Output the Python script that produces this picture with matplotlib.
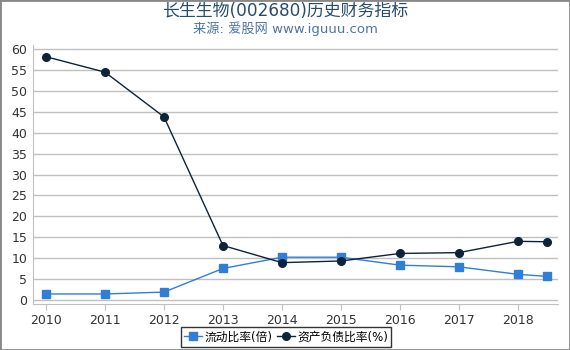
import matplotlib
matplotlib.use('Agg')
import matplotlib.pyplot as plt

plt.rcParams['font.family'] = ['DejaVu Sans', 'Noto Sans CJK SC']

years = [2010, 2011, 2012, 2013, 2014, 2015, 2016, 2017, 2018, 2018.5]
current_ratio = [1.4, 1.4, 1.85, 7.5, 10.2, 10.2, 8.3, 7.9, 6.1, 5.6]
debt_ratio = [58.2, 54.5, 43.8, 13.0, 8.9, 9.3, 11.1, 11.3, 14.0, 13.9]
xticks = [2010, 2011, 2012, 2013, 2014, 2015, 2016, 2017, 2018]
yticks = list(range(0, 61, 5))

fig = plt.figure(figsize=(5.7, 3.5), dpi=100)
ax = fig.add_axes([33 / 570, 1 - 304 / 350, (558 - 33) / 570, (304 - 45) / 350])

ax.plot(years, current_ratio, color='#2f7ed8', marker='s', markersize=5.5,
        linewidth=1, label='流动比率(倍)', zorder=3)
ax.plot(years, debt_ratio, color='#0d233a', marker='o', markersize=5.5,
        linewidth=1, label='资产负债比率(%)', zorder=3)

ax.set_xlim(2009.78, 2018.68)
ax.set_ylim(-1, 61)
ax.set_xticks(xticks)
ax.set_yticks(yticks)
ax.tick_params(axis='both', labelsize=9, colors='#333333')
ax.tick_params(axis='y', length=0, pad=4)
ax.tick_params(axis='x', length=4, color='#c0c0c0')
ax.grid(axis='y', color='#c0c0c0', linewidth=1)
ax.set_axisbelow(True)
for s in ['top', 'right']:
    ax.spines[s].set_visible(False)
ax.spines['left'].set_color('#c0c0c0')
ax.spines['bottom'].set_color('#c0c0c0')

fig.text(0.5, 0.968, '长生生物(002680)历史财务指标', ha='center', va='center',
         fontsize=12.2, color='#274b6d')
fig.text(0.5, 0.918, '来源: 爱股网 www.iguuu.com', ha='center', va='center',
         fontsize=9.5, color='#4d759e')

leg = fig.legend(loc='center', bbox_to_anchor=(286 / 570, 1 - 337 / 350), ncol=2,
                 fontsize=8.5, frameon=True, fancybox=False, edgecolor='black',
                 handlelength=1.5, handletextpad=0.2, columnspacing=0.4,
                 borderpad=0.3, borderaxespad=0)
leg.get_frame().set_linewidth(1)

fig.patches.append(plt.Rectangle((0, 0), 1, 1, transform=fig.transFigure,
                                 fill=False, edgecolor='#888888', linewidth=2))

fig.savefig('out.png', dpi=100)
